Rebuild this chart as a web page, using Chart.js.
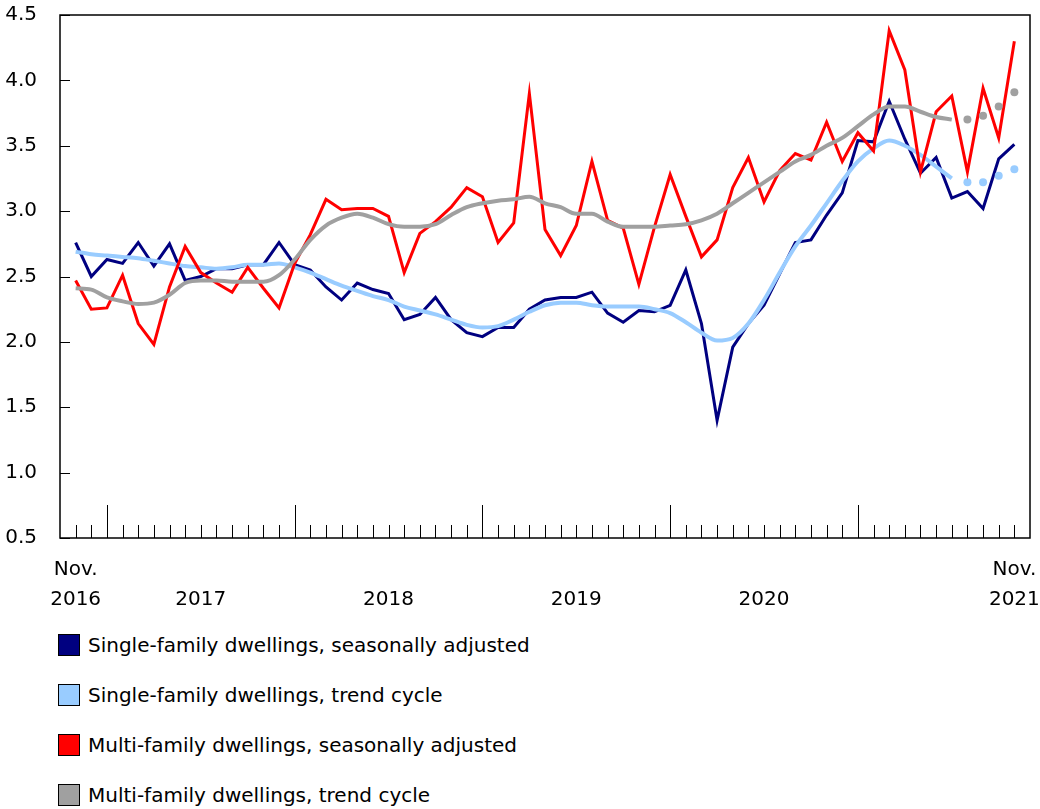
<!DOCTYPE html>
<html>
<head>
<meta charset="utf-8">
<script src="https://cdn.jsdelivr.net/npm/chart.js"></script>
<style>
  body { margin: 0; background: #fff; font-family: "DejaVu Sans", Verdana, sans-serif; color: #000; }
  #wrap { position: relative; width: 1040px; height: 620px; }
  #legend { position: relative; width: 1040px; height: 189px; }
  .item { position: absolute; left: 58px; height: 24px; line-height: 24px; font-size: 20px; white-space: nowrap; }
  .box { display: inline-block; width: 20px; height: 20px; border: 1px solid #000; vertical-align: middle; margin-right: 8px; position: relative; top: -2px; }
</style>
</head>
<body>
<div id="wrap"><canvas id="graf"></canvas></div>
<div id="legend"></div>
<script>
// Nov 2016 .. Nov 2021, one value per month (index 0 = Nov 2016)
const sfAdjusted = [2.76, 2.50, 2.63, 2.60, 2.76, 2.58, 2.75, 2.47, 2.50, 2.56,
  2.56, 2.59, 2.59, 2.76, 2.59, 2.55, 2.42, 2.32, 2.45, 2.40,
  2.37, 2.17, 2.21, 2.34, 2.17, 2.07, 2.04, 2.11, 2.11, 2.25,
  2.32, 2.34, 2.34, 2.38, 2.22, 2.15, 2.24, 2.23, 2.28, 2.55,
  2.14, 1.40, 1.96, 2.14, 2.28, 2.52, 2.76, 2.78, 2.97, 3.14,
  3.54, 3.53, 3.84, 3.55, 3.29, 3.41, 3.10, 3.15, 3.02, 3.40,
  3.51]
const sfTrend = [2.69, 2.67, 2.66, 2.65, 2.64, 2.62, 2.60, 2.58, 2.57, 2.56,
  2.57, 2.59, 2.59, 2.60, 2.57, 2.53, 2.48, 2.43, 2.39, 2.35,
  2.32, 2.27, 2.24, 2.21, 2.17, 2.13, 2.11, 2.12, 2.17, 2.23,
  2.28, 2.30, 2.30, 2.28, 2.27, 2.27, 2.27, 2.25, 2.22, 2.15,
  2.07, 2.01, 2.03, 2.14, 2.32, 2.53, 2.73, 2.89, 3.06, 3.23,
  3.38, 3.48, 3.54, 3.50, 3.43, 3.34, 3.25, null, null, null,
  null]
const sfTrendDots = [null, null, null, null, null, null, null, null, null, null,
  null, null, null, null, null, null, null, null, null, null,
  null, null, null, null, null, null, null, null, null, null,
  null, null, null, null, null, null, null, null, null, null,
  null, null, null, null, null, null, null, null, null, null,
  null, null, null, null, null, null, null, 3.22, 3.22, 3.27,
  3.32]
const mfAdjusted = [2.47, 2.25, 2.26, 2.51, 2.14, 1.98, 2.42, 2.73, 2.53, 2.45,
  2.38, 2.57, 2.41, 2.26, 2.60, 2.82, 3.09, 3.01, 3.02, 3.02,
  2.96, 2.53, 2.83, 2.92, 3.03, 3.18, 3.11, 2.76, 2.91, 3.90,
  2.86, 2.66, 2.89, 3.38, 2.93, 2.87, 2.44, 2.88, 3.28, 2.96,
  2.65, 2.78, 3.18, 3.41, 3.07, 3.31, 3.44, 3.39, 3.68, 3.38,
  3.60, 3.46, 4.38, 4.08, 3.30, 3.76, 3.88, 3.30, 3.94, 3.56,
  4.30]
const mfTrend = [2.41, 2.40, 2.34, 2.31, 2.29, 2.30, 2.36, 2.45, 2.47, 2.47,
  2.46, 2.46, 2.46, 2.51, 2.63, 2.78, 2.89, 2.95, 2.98, 2.95,
  2.90, 2.88, 2.88, 2.90, 2.97, 3.03, 3.06, 3.08, 3.09, 3.11,
  3.06, 3.03, 2.98, 2.98, 2.92, 2.88, 2.88, 2.88, 2.89, 2.90,
  2.93, 2.98, 3.06, 3.14, 3.22, 3.30, 3.38, 3.43, 3.50, 3.56,
  3.65, 3.74, 3.80, 3.80, 3.76, 3.72, 3.70, null, null, null,
  null]
const mfTrendDots = [null, null, null, null, null, null, null, null, null, null,
  null, null, null, null, null, null, null, null, null, null,
  null, null, null, null, null, null, null, null, null, null,
  null, null, null, null, null, null, null, null, null, null,
  null, null, null, null, null, null, null, null, null, null,
  null, null, null, null, null, null, null, 3.70, 3.73, 3.80,
  3.91]

// x axis labels and where they sit (month index)
const tickIndex = [0, 8, 20, 32, 44, 60]
const tickLabels = [['Nov.', '2016'], ['', '2017'], ['', '2018'], ['', '2019'], ['', '2020'], ['Nov.', '2021']]
const januaryIndex = [2, 14, 26, 38, 50]
const yTicks = [0.5, 1.0, 1.5, 2.0, 2.5, 3.0, 3.5, 4.0, 4.5]

const seriesNames = ['Single-family dwellings, seasonally adjusted', 'Single-family dwellings, trend cycle',
  'Multi-family dwellings, seasonally adjusted', 'Multi-family dwellings, trend cycle']
const seriesColors = ['#000080', '#99ccff', '#ff0000', '#a0a0a0']

function points(arr) {
  return arr.map((v, i) => ({x: i, y: v}))
}

const frame = {
  id: 'frame',
  beforeDatasetsDraw(chart) {
    const {ctx, chartArea: a, scales: {x, y}} = chart
    ctx.save()
    ctx.strokeStyle = '#000'
    ctx.lineWidth = 1
    ctx.beginPath()
    for (let i = 0; i < sfAdjusted.length; i++) {
      const px = Math.round(x.getPixelForValue(i)) + 0.5
      const len = januaryIndex.includes(i) ? 33 : 13
      ctx.moveTo(px, a.bottom)
      ctx.lineTo(px, a.bottom - len)
    }
    yTicks.forEach((v) => {
      const py = Math.round(y.getPixelForValue(v)) + 0.5
      ctx.moveTo(a.left, py)
      ctx.lineTo(a.left + 10, py)
    })
    ctx.stroke()
    ctx.lineWidth = 1.5
    ctx.strokeRect(a.left, a.top, a.right - a.left, a.bottom - a.top)
    ctx.restore()
  }
}

const graph = document.getElementById('graf')
graph.width = 1040
graph.height = 620
new Chart(graph, {
  type: 'line',
  data: {
    datasets: [
      {label: seriesNames[0], data: points(sfAdjusted), borderColor: seriesColors[0], borderWidth: 3, pointRadius: 0, order: 3},
      {label: seriesNames[1], data: points(sfTrend), borderColor: seriesColors[1], borderWidth: 4, pointRadius: 0, cubicInterpolationMode: 'monotone', order: 2},
      {label: seriesNames[2], data: points(mfAdjusted), borderColor: seriesColors[2], borderWidth: 3, pointRadius: 0, order: 1},
      {label: seriesNames[3], data: points(mfTrend), borderColor: seriesColors[3], borderWidth: 4, pointRadius: 0, cubicInterpolationMode: 'monotone', order: 0},
      {label: 'sf dots', data: points(sfTrendDots), showLine: false, pointRadius: 4, pointBorderWidth: 0, pointBackgroundColor: seriesColors[1], order: 2},
      {label: 'mf dots', data: points(mfTrendDots), showLine: false, pointRadius: 4, pointBorderWidth: 0, pointBackgroundColor: seriesColors[3], order: 0}
    ]
  },
  options: {
    responsive: false,
    animation: false,
    layout: {padding: {top: 15, right: 10, left: 0, bottom: 0}},
    plugins: {legend: {display: false}, tooltip: {enabled: false}},
    scales: {
      x: {
        type: 'linear',
        min: -1,
        max: 61,
        grid: {display: false},
        border: {display: false},
        afterBuildTicks: (s) => { s.ticks = tickIndex.map((v) => ({value: v})) },
        afterFit: (s) => { s.height = 82; s.paddingLeft = 0; s.paddingRight = 0 },
        ticks: {
          autoSkip: false,
          maxRotation: 0,
          padding: 9,
          color: '#000',
          font: {family: 'DejaVu Sans', size: 20, lineHeight: '30px'},
          callback: (v) => tickLabels[tickIndex.indexOf(v)]
        }
      },
      y: {
        min: 0.5,
        max: 4.5,
        grid: {display: false, drawTicks: false},
        border: {display: false},
        afterFit: (s) => { s.width = 60; s.paddingTop = 0; s.paddingBottom = 0 },
        ticks: {
          stepSize: 0.5,
          padding: 23,
          color: '#000',
          font: {family: 'DejaVu Sans', size: 20},
          callback: (v) => v.toFixed(1)
        }
      }
    }
  },
  plugins: [frame]
})

const legend = document.getElementById('legend')
seriesNames.forEach((name, i) => {
  const item = document.createElement('div')
  item.className = 'item'
  item.style.top = (13 + i * 50) + 'px'
  item.innerHTML = '<span class="box" style="background:' + seriesColors[i] + '"></span>' + name
  legend.appendChild(item)
})
</script>
</body>
</html>
